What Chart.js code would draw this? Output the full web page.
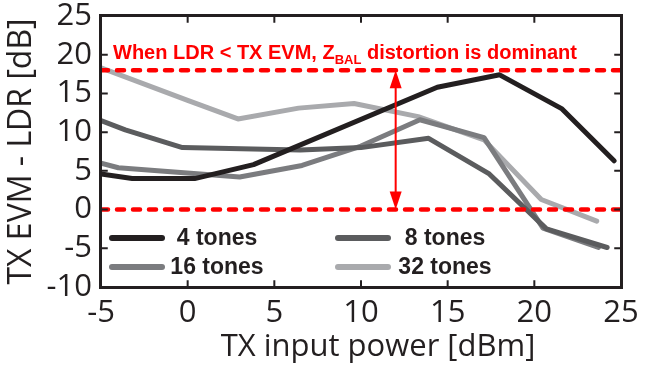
<!DOCTYPE html>
<html>
<head>
<meta charset="utf-8">
<script src="https://cdn.jsdelivr.net/npm/chart.js@4.4.1/dist/chart.umd.min.js"></script>
<style>
  html, body { margin: 0; padding: 0; background: #fff; }
  #wrap { position: relative; width: 654px; height: 365px; }
  #plotBox { position: absolute; box-sizing: border-box; border: 3.5px solid #231f20; pointer-events: none; }
</style>
</head>
<body>
<div id="wrap"><canvas id="evmChart" width="654" height="365"></canvas><div id="plotBox"></div></div>
<script>
// TX input power [dBm] vs TX EVM - LDR [dB]
const power4 = [-5, -3.2, 0.4, 3.8, 14.4, 18.0, 21.6, 24.6]
const evm4 = [4.6, 4.0, 4.0, 5.8, 15.8, 17.4, 13.0, 6.3]

const power8 = [-5, -3.6, -0.3, 6.5, 10.0, 13.9, 17.4, 20.7, 24.2]
const evm8 = [11.5, 10.3, 8.0, 7.7, 8.0, 9.2, 4.6, -2.5, -4.9]

const power16 = [-5, -4.0, 3.0, 6.6, 10.0, 13.4, 17.1, 20.5, 23.7]
const evm16 = [6.0, 5.4, 4.2, 5.7, 8.2, 11.6, 9.3, -2.4, -4.9]

const power32 = [-5, 0, 2.9, 6.4, 9.6, 13.3, 17.1, 20.4, 23.6]
const evm32 = [18.3, 14.1, 11.7, 13.1, 13.7, 12.0, 9.0, 1.3, -1.5]

const seriesLabels = ["4 tones", "8 tones", "16 tones", "32 tones"]
const seriesColors = ["#231f20", "#5b5c5e", "#7b7c7f", "#a9aaad"]

const xTicks = [-5, 0, 5, 10, 15, 20, 25]
const yTicks = [-10, -5, 0, 5, 10, 15, 20, 25]

// red threshold lines and the arrow between them
const thresholdLevels = [0, 18]
const arrowPower = 12
const noteMain = "When LDR < TX EVM, Z"
const noteSub = "BAL"
const noteTail = " distortion is dominant"

const xMin = xTicks[0], xMax = xTicks[xTicks.length - 1]
const yMin = yTicks[0], yMax = yTicks[yTicks.length - 1]
// inward tick length, in axis units
const tickLenX = (xMax - xMin) * 0.013
const tickLenY = (yMax - yMin) * 0.025

const pairs = (xs, ys) => xs.map((x, i) => ({ x: x, y: ys[i] }))

const seriesData = [
  pairs(power4, evm4),
  pairs(power8, evm8),
  pairs(power16, evm16),
  pairs(power32, evm32),
]

// tick marks on all four sides
const tickData = []
xTicks.forEach((v) => {
  tickData.push({ x: v, y: yMin }, { x: v, y: yMin + tickLenY }, { x: v, y: null })
  tickData.push({ x: v, y: yMax }, { x: v, y: yMax - tickLenY }, { x: v, y: null })
})
yTicks.forEach((v) => {
  tickData.push({ x: xMin, y: v }, { x: xMin + tickLenX, y: v }, { x: xMin, y: null })
  tickData.push({ x: xMax, y: v }, { x: xMax - tickLenX, y: v }, { x: xMax, y: null })
})

const textColor = "#231f20"

const datasets = [
  {
    label: "ticks",
    data: tickData,
    borderColor: textColor,
    borderWidth: 2,
    spanGaps: false,
    pointRadius: 0,
    clip: false,
    order: -1,
    isDecor: true,
  },
]
thresholdLevels.forEach((lvl) => {
  datasets.push({
    label: "threshold " + lvl,
    data: [{ x: xMin, y: lvl }, { x: xMax, y: lvl }],
    borderColor: "#ff0000",
    borderWidth: 4.5,
    borderDash: [7, 9],
    borderCapStyle: "round",
    pointRadius: 0,
    order: 0,
    isDecor: true,
  })
})
seriesLabels.forEach((lab, i) => {
  datasets.push({
    label: lab,
    data: seriesData[i],
    borderColor: seriesColors[i],
    borderWidth: 5,
    borderJoinStyle: "round",
    borderCapStyle: "round",
    pointRadius: 0,
    tension: 0,
    order: 1 + i,
  })
})

const xTickFont = { family: "Open Sans", size: 31, lineHeight: 0.9 }
const yTickFont = { family: "Open Sans", size: 31, lineHeight: 0.45 }

const notePlugin = {
  id: "notePlugin",
  afterDraw(chart) {
    const ctx = chart.ctx
    const a = chart.chartArea
    const xs = chart.scales.x
    const ys = chart.scales.y

    // plot box follows the chart area
    const box = document.getElementById("plotBox")
    box.style.left = (a.left - 1.75) + "px"
    box.style.top = (a.top - 1.75) + "px"
    box.style.width = (a.right - a.left + 3.5) + "px"
    box.style.height = (a.bottom - a.top + 3.5) + "px"

    ctx.save()

    // double arrow between the threshold lines
    const ax = xs.getPixelForValue(arrowPower)
    const yTop = ys.getPixelForValue(thresholdLevels[1])
    const yBot = ys.getPixelForValue(thresholdLevels[0])
    const head = 18, hw = 6
    ctx.fillStyle = "#ff0000"
    ctx.fillRect(ax - 1, yTop + head - 2, 2, yBot - yTop - 2 * head + 4)
    ctx.beginPath()
    ctx.moveTo(ax, yTop); ctx.lineTo(ax - hw, yTop + head); ctx.lineTo(ax + hw, yTop + head)
    ctx.closePath(); ctx.fill()
    ctx.beginPath()
    ctx.moveTo(ax, yBot); ctx.lineTo(ax - hw, yBot - head); ctx.lineTo(ax + hw, yBot - head)
    ctx.closePath(); ctx.fill()

    // note above the upper threshold
    const base = yTop - 11
    let nx = a.left + 12
    ctx.textBaseline = "alphabetic"
    ctx.textAlign = "left"
    ctx.font = "bold 20px 'Liberation Sans', Arial, sans-serif"
    ctx.fillText(noteMain, nx, base)
    nx += ctx.measureText(noteMain).width
    ctx.font = "bold 13px 'Liberation Sans', Arial, sans-serif"
    ctx.fillText(noteSub, nx, base + 5)
    nx += ctx.measureText(noteSub).width
    ctx.font = "bold 20px 'Liberation Sans', Arial, sans-serif"
    ctx.fillText(noteTail, nx, base)

    // legend, two columns inside the plot
    const colSwatch = [a.left + 11, a.left + 237]
    const colText = [a.left + 116, a.left + 344]
    const rowY = [a.bottom - 49, a.bottom - 20]
    ctx.font = "bold 23px 'Liberation Sans', Arial, sans-serif"
    ctx.textAlign = "center"
    ctx.textBaseline = "middle"
    chart.data.datasets.filter((d) => !d.isDecor).forEach((d, i) => {
      const c = i % 2, r = Math.floor(i / 2)
      ctx.strokeStyle = d.borderColor
      ctx.lineWidth = 6
      ctx.lineCap = "round"
      ctx.beginPath()
      ctx.moveTo(colSwatch[c], rowY[r]); ctx.lineTo(colSwatch[c] + 50, rowY[r])
      ctx.stroke()
      ctx.fillStyle = textColor
      ctx.fillText(d.label, colText[c], rowY[r] + 1)
    })

    // x axis title
    ctx.font = "31px 'Open Sans', sans-serif"
    ctx.fillStyle = textColor
    ctx.textAlign = "center"
    ctx.textBaseline = "alphabetic"
    ctx.fillText("TX input power [dBm]", (a.left + a.right) / 2 + 17, 356)
    ctx.restore()
  },
}

new Chart(document.getElementById("evmChart"), {
  type: "line",
  data: { datasets: datasets },
  options: {
    responsive: false,
    animation: false,
    layout: { padding: { top: 15, right: 33, left: 0, bottom: 0 } },
    plugins: {
      legend: { display: false },
      tooltip: { enabled: false },
    },
    scales: {
      x: {
        type: "linear",
        min: xMin,
        max: xMax,
        afterBuildTicks: (s) => { s.ticks = xTicks.map((v) => ({ value: v })) },
        afterFit: (s) => { s.height = 78 },
        ticks: { font: xTickFont, color: textColor, padding: 12, maxRotation: 0, autoSkip: false },
        grid: { display: false, drawTicks: false },
        border: { display: false },
      },
      y: {
        min: yMin,
        max: yMax,
        afterBuildTicks: (s) => { s.ticks = yTicks.map((v) => ({ value: v })) },
        afterFit: (s) => { s.width = 101 },
        ticks: { font: yTickFont, color: textColor, padding: 9, autoSkip: false },
        grid: { display: false, drawTicks: false },
        border: { display: false },
        title: {
          display: true,
          text: "TX EVM - LDR [dB]",
          font: { family: "Open Sans", size: 32 },
          color: textColor,
          padding: { top: 3, bottom: 0 },
        },
      },
    },
  },
  plugins: [notePlugin],
})
</script>
</body>
</html>
